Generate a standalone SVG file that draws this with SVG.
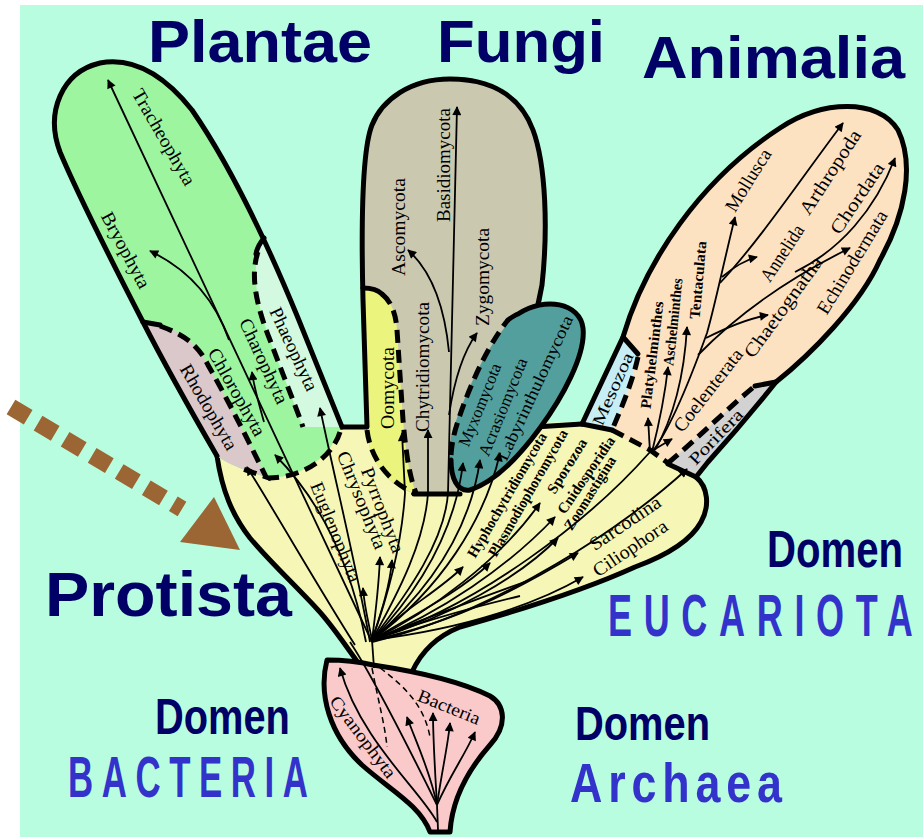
<svg xmlns="http://www.w3.org/2000/svg" width="923" height="837" viewBox="0 0 923 837">
<defs>
<style>
.out{fill:none;stroke:#000;stroke-width:5;stroke-linejoin:round;stroke-linecap:round}
.dash{fill:none;stroke:#000;stroke-width:5;stroke-dasharray:13 7}
.ar{fill:none;stroke:#000;stroke-width:1.8;marker-end:url(#ah)}
.ln{fill:none;stroke:#000;stroke-width:1.8}
.dl{fill:none;stroke:#000;stroke-width:1.5;stroke-dasharray:6 4}
.lbl{font-family:"Liberation Serif","Times New Roman",serif;font-size:19px;fill:#000;text-anchor:middle;dominant-baseline:central}
.sm{font-size:15px;font-weight:bold}
.t{font-family:"Liberation Sans",Arial,sans-serif;font-weight:bold;fill:#000066}
.b{font-family:"Liberation Sans",Arial,sans-serif;font-weight:bold;fill:#3333cc}
</style>
<marker id="ah" viewBox="0 0 10 10" refX="9" refY="5" markerWidth="12" markerHeight="9" markerUnits="userSpaceOnUse" orient="auto"><path d="M0,0 L10,5 L0,10 Z" fill="#000"/></marker>
</defs>
<rect x="0" y="0" width="923" height="837" fill="#ffffff"/>
<rect x="20" y="5" width="903" height="832" fill="#b9fde0"/>

<g id="protista">
<path d="M 217,456 L 340,425 L 600,422 L 696,477 C 708,487 710,506 701,522 C 690,542 665,556 635,567 C 580,592 510,613 460,627 C 440,635 422,650 412,672 L 362,668 C 345,645 332,625 318,610 C 295,585 270,562 250,538 C 232,515 222,490 217,456 Z" fill="#f6f7b6"/>
<path class="out" d="M 217,456 C 222,490 232,515 250,538 C 270,562 295,585 318,610 C 332,625 345,645 362,668"/>
<path class="out" d="M 696,477 C 708,487 710,506 701,522 C 690,542 665,556 635,567 C 580,592 510,613 460,627 C 440,635 422,650 412,672"/>
<path class="out" d="M 303,427 L 367,427"/>
<path class="out" d="M 535,427 L 582,424"/>
</g>

<g id="bacteria">
<path d="M 327,660 C 345,660 360,662 373,665 C 420,672 462,682 490,696 C 505,705 508,725 490,745 C 468,770 452,800 450,832 L 430,832 C 420,805 390,790 362,765 C 330,735 318,695 327,660 Z" fill="#facaca" stroke="#000" stroke-width="5" stroke-linejoin="round"/>
</g>

<g id="plantae">
<path d="M 217,456 C 195,418 165,365 143,322 C 110,258 78,195 60,152 C 45,112 62,72 100,63 C 138,56 168,80 192,110 C 232,168 268,245 298,318 C 314,358 328,392 342,427 L 338,432 C 330,458 300,478 268,478 L 245,470 C 232,465 222,460 217,456 Z" fill="#9ef5a0"/>
<path d="M 143,322 C 165,322 190,335 205,360 C 225,395 245,435 266,477 L 245,470 C 232,465 222,460 217,456 C 195,418 165,365 143,322 Z" fill="#dac8ca"/>
<path d="M 264,238 C 250,262 255,300 270,340 C 285,380 297,410 303,427 L 342,427 C 328,392 314,358 298,318 C 287,290 276,262 264,238 Z" fill="#d3fae0"/>
<path class="out" d="M 217,456 C 195,418 165,365 143,322 C 110,258 78,195 60,152 C 45,112 62,72 100,63 C 138,56 168,80 192,110 C 232,168 268,245 298,318 C 314,358 328,392 342,427"/>
<path class="dash" d="M 160,326 C 185,335 198,345 208,365 C 228,400 248,440 266,477 L 240,468"/>
<path class="out" d="M 143,322 L 160,325"/>
<path class="dash" d="M 258,252 C 250,275 256,305 270,340 C 285,380 297,410 303,427"/>
<path class="out" d="M 264,238 C 259,244 257,248 256,254"/>
<path class="dash" d="M 340,432 C 332,458 302,478 268,478"/>
</g>

<g id="fungi">
<path d="M 367,427 L 363,300 C 361,220 362,150 372,125 C 382,100 410,79 450,79 C 490,79 520,95 533,130 C 546,165 548,230 542,285 C 532,345 505,415 470,478 L 455,493 L 414,493 C 392,488 378,470 370,450 Z" fill="#cbc8b0"/>
<path d="M 363,287 C 385,290 396,305 397,330 L 403,420 C 406,455 410,478 416,493 C 392,488 378,470 370,450 L 367,427 Z" fill="#ebf47c"/>
<path class="out" d="M 367,427 L 363,300 C 361,220 362,150 372,125 C 382,100 410,79 450,79 C 490,79 520,95 533,130 C 546,165 548,230 542,285 C 535,325 520,370 500,410"/>
<path class="out" d="M 414,494 L 460,494"/>
<path class="dash" d="M 382,294 C 392,302 396,315 397,330 L 403,420 C 406,455 410,478 416,493"/>
<path class="out" d="M 363,288 C 372,288 378,290 382,294"/>
<path class="dash" d="M 367,430 C 370,455 385,480 414,493"/>
</g>

<g id="myxo">
<path d="M 452,432 C 468,385 492,335 518,314 C 545,296 580,303 583,328 C 586,355 562,398 540,428 C 518,458 495,482 470,490 C 452,492 446,460 452,432 Z" fill="#529f9e"/>
<path class="out" d="M 508,320 C 512,317 515,315 518,314 C 545,296 580,303 583,328 C 586,355 562,398 540,428 C 518,458 495,482 470,490 C 457,492 451,478 451,460"/>
<path class="dash" d="M 451,455 C 452,440 455,430 460,415 C 472,380 490,342 508,320"/>
</g>

<g id="animalia">
<path d="M 582,424 L 623,337 C 645,262 700,180 780,128 C 822,100 878,98 898,130 C 915,165 905,215 880,260 C 860,305 810,355 776,382 C 760,402 735,432 708,462 L 696,477 L 668,463 L 610,430 Z" fill="#fde2c2"/>
<path d="M 582,424 L 623,337 L 638,354 C 633,380 622,407 612,430 Z" fill="#c8eef5"/>
<path d="M 668,463 C 698,438 728,408 755,386 L 776,382 C 760,402 735,432 708,462 L 696,477 Z" fill="#d2d2d2"/>
<path class="out" d="M 582,424 L 623,337 C 645,262 700,180 780,128 C 822,100 878,98 898,130 C 915,165 905,215 880,260 C 860,305 810,355 776,382 C 760,402 735,432 708,462 L 696,477"/>
<path class="out" d="M 623,337 L 638,354"/>
<path class="dash" d="M 638,357 C 633,380 622,407 612,430"/>
<path class="out" d="M 582,424 L 612,430"/>
<path class="dash" d="M 612,430 L 650,450 L 668,463"/>
<path class="dash" d="M 668,463 C 698,438 728,408 755,386"/>
<path class="out" d="M 755,386 L 776,382"/>
<path class="out" d="M 668,464 L 696,477"/>
</g>

<g id="connectors">
<path class="ar" d="M 372,642 L 108,80"/>
<path class="ar" d="M 355,645 C 320,590 280,520 247,467"/>
<path class="ar" d="M 366,642 C 350,560 320,500 275,455"/>
<path class="ar" d="M 370,642 C 355,560 335,480 320,408"/>
<path class="ar" d="M 264,422 C 258,400 254,388 252,372"/>
<path class="ar" d="M 229,340 C 215,300 190,270 150,251"/>
<path class="ar" d="M 372,640 C 410,590 445,540 448,493 L 457,107"/>
<path class="ar" d="M 449,352 C 444,300 428,268 408,250"/>
<path class="ar" d="M 449,415 C 455,375 466,348 477,333"/>
<path class="ar" d="M 372,640 C 400,590 425,540 428,493 L 428,430"/>
<path class="ar" d="M 372,640 C 390,590 402,540 405,493 L 402,433"/>
<path class="ar" d="M 372,640 C 420,590 455,530 463,463"/>
<path class="ar" d="M 372,640 C 430,590 470,530 480,460"/>
<path class="ar" d="M 372,640 C 440,590 485,520 500,453"/>
<path class="ar" d="M 372,640 C 368,620 364,605 363,588"/>
<path class="ar" d="M 372,640 C 376,610 379,580 380,557"/>
<path class="ar" d="M 372,640 C 382,610 390,585 392,560"/>
<path class="ar" d="M 372,640 C 400,612 440,590 463,567"/>
<path class="ar" d="M 372,640 C 410,617 460,592 490,563"/>
<path class="ar" d="M 372,640 C 430,612 500,560 540,503"/>
<path class="ar" d="M 372,640 C 440,614 510,565 555,517"/>
<path class="ar" d="M 372,640 C 450,617 520,577 558,538"/>
<path class="ar" d="M 372,640 C 460,622 530,582 578,553"/>
<path class="ar" d="M 372,640 C 470,628 540,602 583,577"/>
<path class="ln" d="M 372,640 C 420,622 470,608 520,596"/>
<path class="ln" d="M 372,640 C 425,618 480,598 530,580"/>
<path class="ln" d="M 372,640 C 480,605 590,520 650,452"/>
<path class="ar" d="M 372,642 C 500,612 630,522 687,469"/>
<path class="ar" d="M 650,452 L 648,418"/>
<path class="ar" d="M 652,452 C 660,420 665,395 668,367"/>
<path class="ar" d="M 655,450 C 672,420 684,380 687,327"/>
<path class="ar" d="M 650,452 L 672,439"/>
<path class="ar" d="M 652,452 C 670,430 690,380 707,333 C 715,305 722,270 735,217"/>
<path class="ar" d="M 720,283 C 760,240 800,180 843,123"/>
<path class="ar" d="M 722,277 C 735,266 745,260 757,257"/>
<path class="ar" d="M 706,338 C 730,326 750,318 768,315"/>
<path class="ar" d="M 698,355 C 730,322 775,285 850,248"/>
<path class="ar" d="M 795,272 C 840,250 875,210 895,158"/>
<path class="ln" d="M 350,642 C 370,672 395,720 437,805"/>
<path class="ln" d="M 372,640 L 374,668"/>
<path class="ar" d="M 437,822 C 420,790 360,740 340,668"/>
<path class="ar" d="M 437,805 C 430,770 415,740 407,717"/>
<path class="ar" d="M 437,805 C 435,770 433,740 433,713"/>
<path class="ar" d="M 437,805 C 442,770 448,745 450,723"/>
<path class="ar" d="M 437,805 C 450,775 465,755 475,732"/>
<path class="ln" d="M 437,805 L 438,830"/>
<path class="dl" d="M 380,668 C 410,690 425,710 430,737"/>
<path class="dl" d="M 372,668 C 378,700 385,725 387,747"/>
</g>

<g id="labels">
<text class="lbl" transform="translate(164,137) rotate(60)" textLength="108" lengthAdjust="spacingAndGlyphs">Tracheophyta</text>
<text class="lbl" transform="translate(126,250) rotate(62)" textLength="84" lengthAdjust="spacingAndGlyphs">Bryophyta</text>
<text class="lbl" transform="translate(209,407) rotate(60)" textLength="96" lengthAdjust="spacingAndGlyphs">Rhodophyta</text>
<text class="lbl" transform="translate(237,392) rotate(60.6)" textLength="98" lengthAdjust="spacingAndGlyphs">Chlorophyta</text>
<text class="lbl" transform="translate(264,361) rotate(65)" textLength="92" lengthAdjust="spacingAndGlyphs">Charophyta</text>
<text class="lbl" transform="translate(294,349) rotate(65)" textLength="90" lengthAdjust="spacingAndGlyphs">Phaeophyta</text>
<text class="lbl" transform="translate(443,165) rotate(-90)" textLength="114" lengthAdjust="spacingAndGlyphs">Basidiomycota</text>
<text class="lbl" transform="translate(398,227) rotate(-90)" textLength="98" lengthAdjust="spacingAndGlyphs">Ascomycota</text>
<text class="lbl" transform="translate(422,367) rotate(-90)" textLength="130" lengthAdjust="spacingAndGlyphs">Chytridiomycota</text>
<text class="lbl" transform="translate(482,277) rotate(-90)" textLength="98" lengthAdjust="spacingAndGlyphs">Zygomycota</text>
<text class="lbl" transform="translate(387,388) rotate(-90)" textLength="82" lengthAdjust="spacingAndGlyphs">Oomycota</text>
<text class="lbl" style="font-size:17px" transform="translate(480,405) rotate(-68)" textLength="88" lengthAdjust="spacingAndGlyphs">Myxomycota</text>
<text class="lbl" style="font-size:17px" transform="translate(503,407) rotate(-68)" textLength="104" lengthAdjust="spacingAndGlyphs">Acrasiomycota</text>
<text class="lbl" style="font-size:17px" transform="translate(535,388) rotate(-65)" textLength="158" lengthAdjust="spacingAndGlyphs">Labyrinthulomycota</text>
<text class="lbl" transform="translate(336,532) rotate(68)" textLength="106" lengthAdjust="spacingAndGlyphs">Euglenophyta</text>
<text class="lbl" transform="translate(362,500) rotate(68)" textLength="104" lengthAdjust="spacingAndGlyphs">Chrysophyta</text>
<text class="lbl" transform="translate(383,510) rotate(69)" textLength="90" lengthAdjust="spacingAndGlyphs">Pyrrophyta</text>
<text class="lbl sm" transform="translate(507,495) rotate(-59.5)" textLength="142" lengthAdjust="spacingAndGlyphs">Hyphochytridiomycota</text>
<text class="lbl sm" transform="translate(528,493) rotate(-60)" textLength="144" lengthAdjust="spacingAndGlyphs">Plasmodiophoromycota</text>
<text class="lbl sm" transform="translate(567,466) rotate(-58)" textLength="62" lengthAdjust="spacingAndGlyphs">Sporozoa</text>
<text class="lbl sm" transform="translate(586,475) rotate(-55.6)" textLength="90" lengthAdjust="spacingAndGlyphs">Cnidosporidia</text>
<text class="lbl sm" transform="translate(590,493) rotate(-57.8)" textLength="84" lengthAdjust="spacingAndGlyphs">Zoomastigina</text>
<text class="lbl" transform="translate(625,523) rotate(-34)" textLength="82" lengthAdjust="spacingAndGlyphs">Sarcodina</text>
<text class="lbl" transform="translate(630,548) rotate(-34)" textLength="86" lengthAdjust="spacingAndGlyphs">Ciliophora</text>
<text class="lbl" style="font-size:17px" transform="translate(613,389) rotate(-66)" textLength="78" lengthAdjust="spacingAndGlyphs">Mesozoa</text>
<text class="lbl sm" transform="translate(652,355) rotate(-83)" textLength="108" lengthAdjust="spacingAndGlyphs">Platyhelminthes</text>
<text class="lbl sm" transform="translate(673,322) rotate(-84)" textLength="88" lengthAdjust="spacingAndGlyphs">Aschelminthes</text>
<text class="lbl sm" transform="translate(698,280) rotate(-85)" textLength="78" lengthAdjust="spacingAndGlyphs">Tentaculata</text>
<text class="lbl" transform="translate(748,180) rotate(-58)" textLength="70" lengthAdjust="spacingAndGlyphs">Mollusca</text>
<text class="lbl" transform="translate(782,253) rotate(-56.6)" textLength="64" lengthAdjust="spacingAndGlyphs">Annelida</text>
<text class="lbl" transform="translate(830,172) rotate(-57)" textLength="97" lengthAdjust="spacingAndGlyphs">Arthropoda</text>
<text class="lbl" transform="translate(857,198) rotate(-56)" textLength="82" lengthAdjust="spacingAndGlyphs">Chordata</text>
<text class="lbl" transform="translate(852,262) rotate(-58.5)" textLength="118" lengthAdjust="spacingAndGlyphs">Echinodermata</text>
<text class="lbl" transform="translate(783,307) rotate(-54)" textLength="120" lengthAdjust="spacingAndGlyphs">Chaetognatha</text>
<text class="lbl" transform="translate(708,390) rotate(-52)" textLength="100" lengthAdjust="spacingAndGlyphs">Coelenterata</text>
<text class="lbl" style="font-size:17px" transform="translate(716,437) rotate(-46)" textLength="70" lengthAdjust="spacingAndGlyphs">Porifera</text>
<text class="lbl" style="font-size:18px" transform="translate(363,737) rotate(53)" textLength="98" lengthAdjust="spacingAndGlyphs">Cyanophyta</text>
<text class="lbl" style="font-size:18px" transform="translate(449,707) rotate(22)" textLength="66" lengthAdjust="spacingAndGlyphs">Bacteria</text>
</g>

<g id="pointer">
<path d="M 11,407 L 182,509" fill="none" stroke="#9b6534" stroke-width="17" stroke-dasharray="20 11.5"/>
<polygon points="214,497 240,550 180,542" fill="#9b6534"/>
</g>

<g id="titles">
<text class="t" x="148" y="62" font-size="60" textLength="224" lengthAdjust="spacingAndGlyphs">Plantae</text>
<text class="t" x="437" y="62" font-size="60" textLength="168" lengthAdjust="spacingAndGlyphs">Fungi</text>
<text class="t" x="642" y="78" font-size="60" textLength="263" lengthAdjust="spacingAndGlyphs">Animalia</text>
<text class="t" x="45" y="616" font-size="63" textLength="247" lengthAdjust="spacingAndGlyphs">Protista</text>
<text class="t" transform="translate(767,567) scale(0.772,1)" font-size="52">Domen</text>
<text class="t" transform="translate(155,734) scale(0.796,1)" font-size="50">Domen</text>
<text class="t" transform="translate(575,740) scale(0.813,1)" font-size="49">Domen</text>
<text class="b" transform="translate(608,636) scale(0.6,1)" font-size="60" textLength="508" lengthAdjust="spacing">EUCARIOTA</text>
<text class="b" transform="translate(68,797) scale(0.6,1)" font-size="58" textLength="400" lengthAdjust="spacing">BACTERIA</text>
<text class="b" transform="translate(570,802) scale(0.8,1)" font-size="56" textLength="265" lengthAdjust="spacing">Archaea</text>
</g>
</svg>
